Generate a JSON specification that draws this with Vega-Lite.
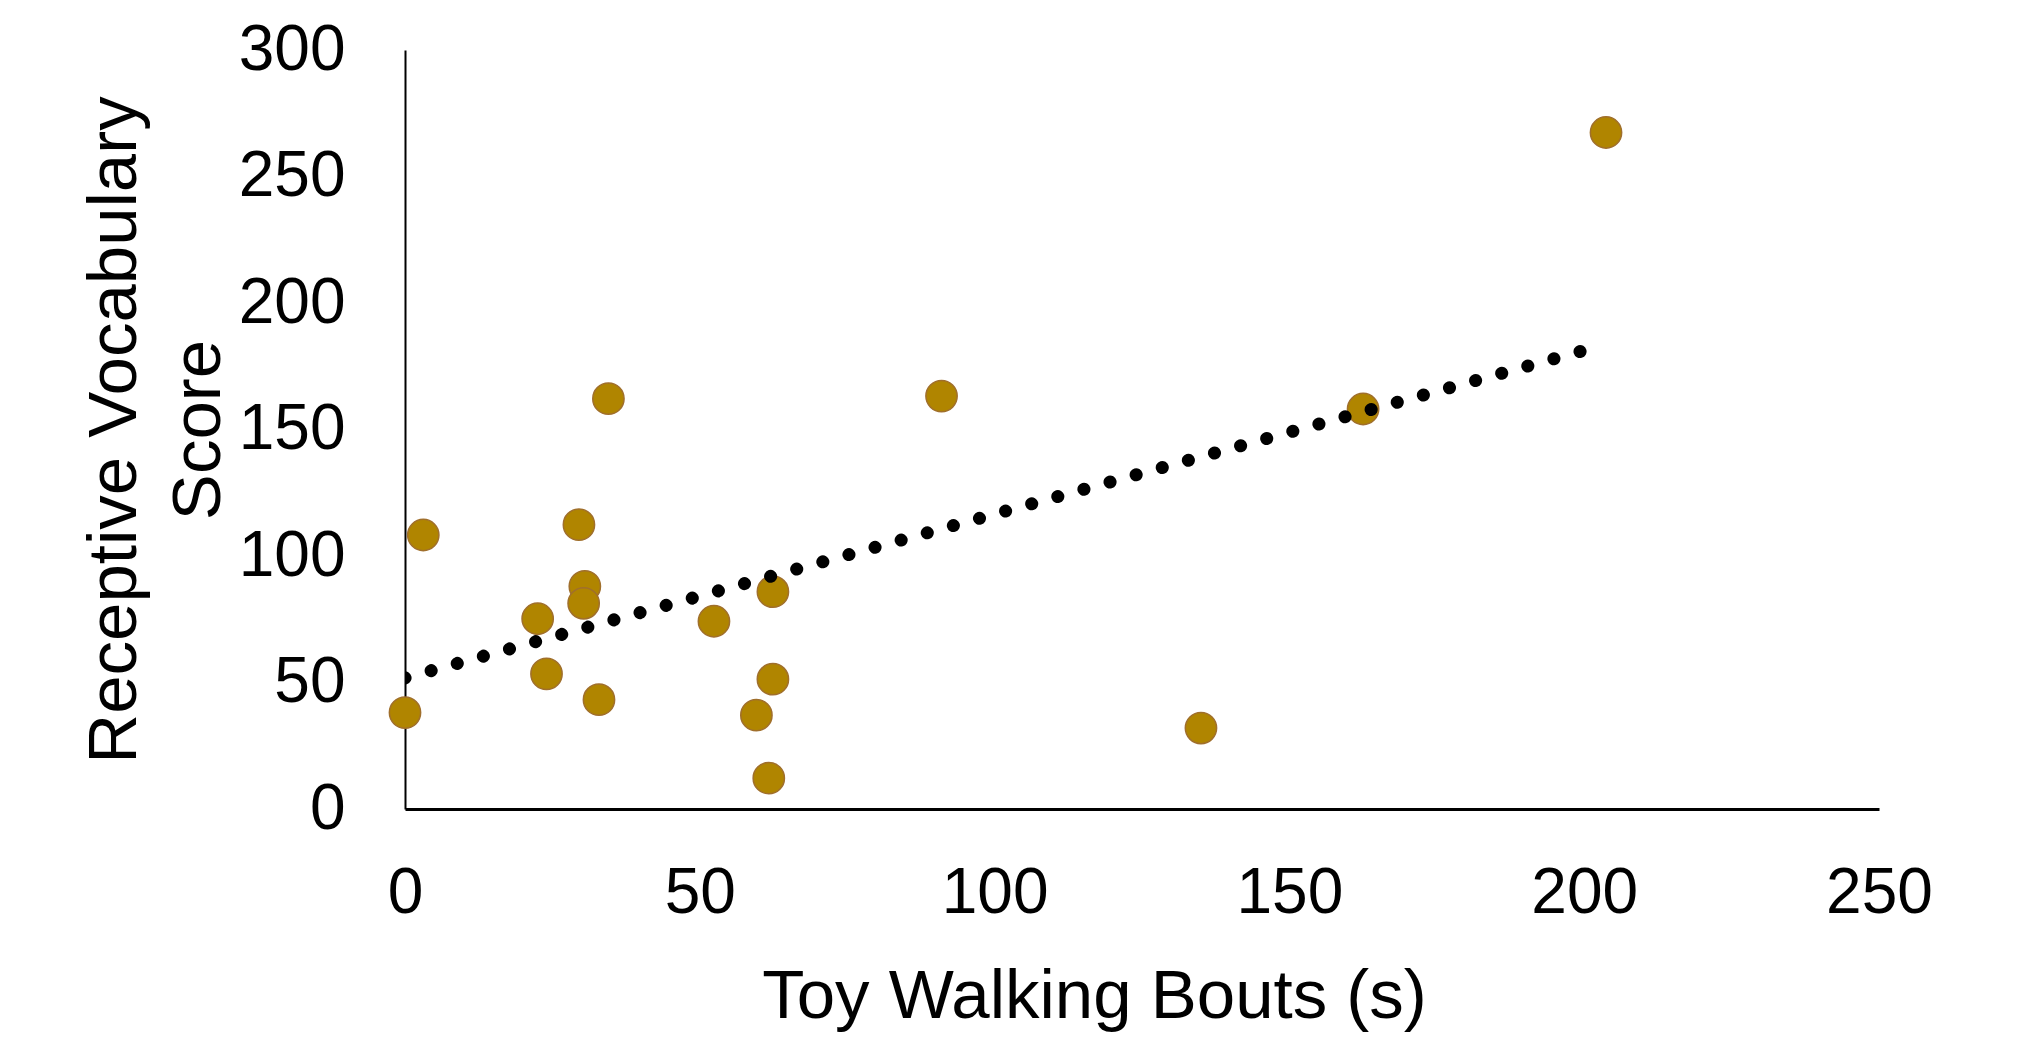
{
  "$schema": "https://vega.github.io/schema/vega-lite/v6.json",
  "autosize": {"type": "none"},
  "padding": {"left": 405, "top": 50, "right": 138, "bottom": 229},
  "width": 1474,
  "height": 759,
  "background": "white",
  "config": {
    "view": {"stroke": null},
    "font": "Liberation Sans",
    "axis": {
      "grid": false,
      "ticks": false,
      "tickSize": 0,
      "domainColor": "#000000",
      "domainOpacity": 1,
      "labelColor": "black",
      "titleColor": "black",
      "labelFont": "Liberation Sans",
      "titleFont": "Liberation Sans",
      "labelFontSize": 64,
      "titleFontSize": 69,
      "titleFontWeight": "normal",
      "labelFlush": false,
      "labelOverlap": false,
      "labelBound": false
    }
  },
  "data": {
    "values": [
      {"x": 0, "y": 38.1},
      {"x": 3.1, "y": 108.3},
      {"x": 22.5, "y": 75.2},
      {"x": 24.0, "y": 53.4},
      {"x": 29.5, "y": 112.4},
      {"x": 30.5, "y": 88.0},
      {"x": 30.3, "y": 81.3},
      {"x": 32.9, "y": 43.2},
      {"x": 34.5, "y": 162.2},
      {"x": 52.4, "y": 74.2},
      {"x": 59.6, "y": 37.1},
      {"x": 62.4, "y": 85.9},
      {"x": 62.4, "y": 51.3},
      {"x": 61.7, "y": 12.2},
      {"x": 91.0, "y": 163.2},
      {"x": 135.0, "y": 32.0},
      {"x": 162.5, "y": 158.1},
      {"x": 203.7, "y": 267.4}
    ]
  },
  "encoding": {
    "x": {
      "field": "x",
      "type": "quantitative",
      "scale": {"domain": [0, 250], "nice": false, "zero": false},
      "axis": {
        "title": "Toy Walking Bouts (s)",
        "values": [0, 50, 100, 150, 200, 250],
        "domainWidth": 3,
        "domainColor": "#000000",
        "labelPadding": 52,
        "titlePadding": 37,
        "titleX": 689
      }
    },
    "y": {
      "field": "y",
      "type": "quantitative",
      "scale": {"domain": [0, 300], "nice": false, "zero": false},
      "axis": {
        "title": ["Receptive Vocabulary", "Score"],
        "titleLineHeight": 84,
        "values": [0, 50, 100, 150, 200, 250, 300],
        "domainWidth": 2,
        "domainColor": "#000000",
        "labelPadding": 60,
        "titlePadding": 5
      }
    }
  },
  "layer": [
    {
      "mark": {
        "type": "point",
        "shape": "circle",
        "filled": true,
        "size": 980,
        "fill": "#B08500",
        "stroke": "#A06F2C",
        "strokeWidth": 1.5,
        "opacity": 1
      }
    },
    {
      "transform": [
        {"regression": "y", "on": "x", "extent": [0, 200]}
      ],
      "mark": {
        "type": "line",
        "color": "black",
        "strokeWidth": 13,
        "strokeCap": "round",
        "strokeDash": [0.1, 27],
        "clip": true
      }
    }
  ]
}
